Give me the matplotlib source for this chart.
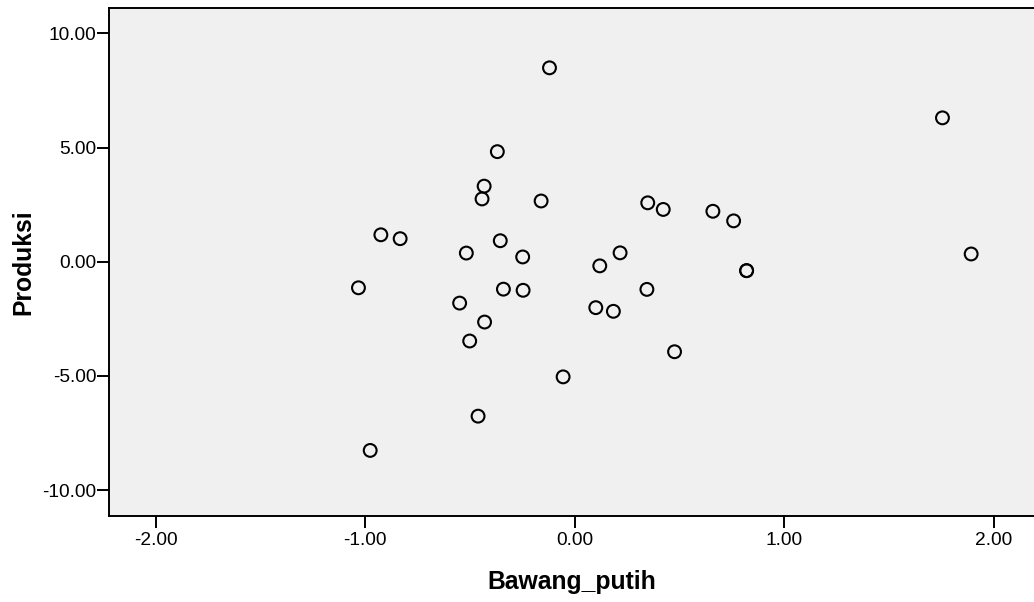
import numpy as np
import matplotlib
matplotlib.use("Agg")
import matplotlib.pyplot as plt

# Bawang_putih (x) vs Produksi (y)
bawang_putih = [-0.120, 1.756, -0.369, -0.432, -0.442, -0.160, 0.349, 0.423,
                0.660, 0.759, -0.925, -0.833, -0.355, -0.517, 0.217, -0.248,
                1.893, 0.120, 0.821, 0.821, -1.032, -0.549, -0.340, -0.246,
                0.345, 0.101, 0.185, -0.430, -0.501, 0.477, -0.055, -0.461,
                -0.976]
produksi = [8.49, 6.30, 4.82, 3.31, 2.75, 2.66, 2.58, 2.29,
            2.21, 1.79, 1.18, 1.01, 0.92, 0.38, 0.39, 0.21,
            0.34, -0.18, -0.39, -0.39, -1.14, -1.81, -1.20, -1.25,
            -1.21, -2.01, -2.17, -2.64, -3.47, -3.94, -5.04, -6.76,
            -8.26]

x_ticks = [-2.0, -1.0, 0.0, 1.0, 2.0]
y_ticks = [-10.0, -5.0, 0.0, 5.0, 10.0]

plt.rcParams["font.family"] = ["Liberation Sans", "DejaVu Sans"]

fig = plt.figure(figsize=(10.34, 6.02), dpi=100)
ax = fig.add_axes([0.1054, 0.1429, 0.8946, 0.8446])
ax.set_facecolor("#f0f0f0")

ax.scatter(bawang_putih, produksi, s=85, facecolors="none",
           edgecolors="black", linewidths=1.5, zorder=3)

ax.set_xlim(-2.223, 2.193)
ax.set_ylim(-11.13, 11.13)
ax.set_xticks(x_ticks)
ax.set_yticks(y_ticks)
ax.set_xticklabels([f"{v:.2f}" for v in x_ticks])
ax.set_yticklabels([f"{v:.2f}" for v in y_ticks])
ax.tick_params(axis="both", length=8.5, width=1.4, labelsize=13.8)
ax.tick_params(axis="y", pad=0.5)
ax.tick_params(axis="x", pad=3)

ax.spines["right"].set_visible(False)
for side in ["left", "bottom", "top"]:
    ax.spines[side].set_linewidth(1.4)

ax.set_xlabel("Bawang_putih", fontsize=17.8, fontweight="bold", labelpad=15)
ax.set_ylabel("Produksi", fontsize=17.8, fontweight="bold", labelpad=5)

fig.savefig("out.png", dpi=100)
